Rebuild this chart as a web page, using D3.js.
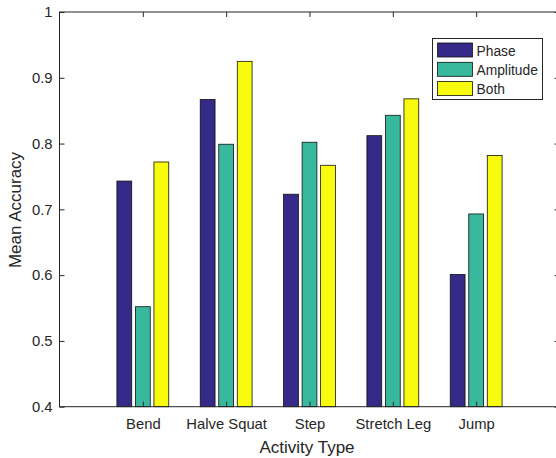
<!DOCTYPE html>
<html>
<head>
<meta charset="utf-8">
<script src="https://cdn.jsdelivr.net/npm/d3@7"></script>
<style>
	body { margin: 0; background: #fff; }
	text { font-family: "Liberation Sans", Arial, sans-serif; fill: #262626; }
</style>
</head>
<body>
<div id="chart"></div>
<script>
// data
var activities = ['Bend', 'Halve Squat', 'Step', 'Stretch Leg', 'Jump'];
var seriesNames = ['Phase', 'Amplitude', 'Both'];
var phase = [0.743, 0.867, 0.723, 0.812, 0.601];
var amplitude = [0.552, 0.799, 0.802, 0.843, 0.693];
var both = [0.772, 0.925, 0.767, 0.868, 0.782];
var yTicks = [0.4, 0.5, 0.6, 0.7, 0.8, 0.9, 1];
var colors = ['#352a87', '#38b99e', '#f9fb0e'];

var width = 556, height = 458;
var series = [phase, amplitude, both];

var svg = d3.select('#chart')
	.append('svg')
	.attr('width', width)
	.attr('height', height);

// x in "bar index" units like matlab, xlim [0 6]
var x = d3.scaleLinear().domain([0, 6]).range([59.5, 559.5]);
var y = d3.scaleLinear().domain([0.4, 1]).range([406.7, 12]);

var groupWidth = 3 / (3 + 1.5); // matlab grouped bar rule
var step = groupWidth / 3;
var barW = step * 0.8;

// bars
series.forEach(function (vals, j) {
	svg.append('g')
		.selectAll('rect')
		.data(vals)
		.enter()
		.append('rect')
		.attr('x', function (d, i) { return x(i + 1 + (j - 1) * step - barW / 2); })
		.attr('width', function () { return x(barW) - x(0); })
		.attr('y', function (d) { return y(d); })
		.attr('height', function (d) { return y(0.4) - y(d); })
		.attr('fill', colors[j])
		.attr('stroke', '#111')
		.attr('stroke-width', 0.8);
});

var axisColor = '#262626';

// box
svg.append('rect')
	.attr('x', x(0))
	.attr('y', y(1))
	.attr('width', x(6) - x(0))
	.attr('height', y(0.4) - y(1))
	.attr('fill', 'none')
	.attr('stroke', axisColor)
	.attr('stroke-width', 1);

// axes, ticks inward
var xIdx = d3.range(1, activities.length + 1);
var gBottom = svg.append('g')
	.attr('transform', 'translate(0,' + y(0.4) + ')')
	.call(d3.axisBottom(x).tickValues(xIdx).tickSizeInner(-5).tickSizeOuter(0)
		.tickFormat(function (d) { return activities[d - 1]; }));
gBottom.selectAll('text').attr('dy', null).attr('y', 22);

var gTop = svg.append('g')
	.attr('transform', 'translate(0,' + y(1) + ')')
	.call(d3.axisTop(x).tickValues(xIdx).tickSizeInner(-5).tickSizeOuter(0).tickFormat(''));

var gLeft = svg.append('g')
	.attr('transform', 'translate(' + x(0) + ',0)')
	.call(d3.axisLeft(y).tickValues(yTicks).tickSizeInner(-5).tickSizeOuter(0)
		.tickFormat(d3.format('')));
gLeft.selectAll('text').attr('x', -7);

var gRight = svg.append('g')
	.attr('transform', 'translate(' + x(6) + ',0)')
	.call(d3.axisRight(y).tickValues(yTicks).tickSizeInner(-5).tickSizeOuter(0).tickFormat(''));

[gBottom, gTop, gLeft, gRight].forEach(function (g) {
	g.attr('font-size', 14.8).attr('font-family', '"Liberation Sans", Arial, sans-serif');
	g.select('.domain').remove();
	g.selectAll('line').attr('stroke', axisColor);
	g.selectAll('text').attr('fill', axisColor);
});

// axis labels
svg.append('text')
	.attr('x', 307)
	.attr('y', 453)
	.attr('text-anchor', 'middle')
	.style('font-size', '17px')
	.text('Activity Type');

svg.append('text')
	.attr('transform', 'translate(21,210) rotate(-90)')
	.attr('text-anchor', 'middle')
	.style('font-size', '17px')
	.text('Mean Accuracy');

// legend
var legend = svg.append('g').attr('transform', 'translate(432.5,38.5)');
legend.append('rect')
	.attr('width', 110)
	.attr('height', 61)
	.attr('fill', '#fff')
	.attr('stroke', axisColor)
	.attr('stroke-width', 1);

var item = legend.selectAll('.item')
	.data(seriesNames)
	.enter()
	.append('g')
	.attr('class', 'item')
	.attr('transform', function (d, i) { return 'translate(5,' + (4.5 + i * 19.3) + ')'; });

item.append('rect')
	.attr('width', 35)
	.attr('height', 14)
	.attr('fill', function (d, i) { return colors[i]; })
	.attr('stroke', '#111')
	.attr('stroke-width', 0.8);

item.append('text')
	.attr('x', 39)
	.attr('y', 12.5)
	.style('font-size', '13.8px')
	.text(function (d) { return d; });
</script>
</body>
</html>
